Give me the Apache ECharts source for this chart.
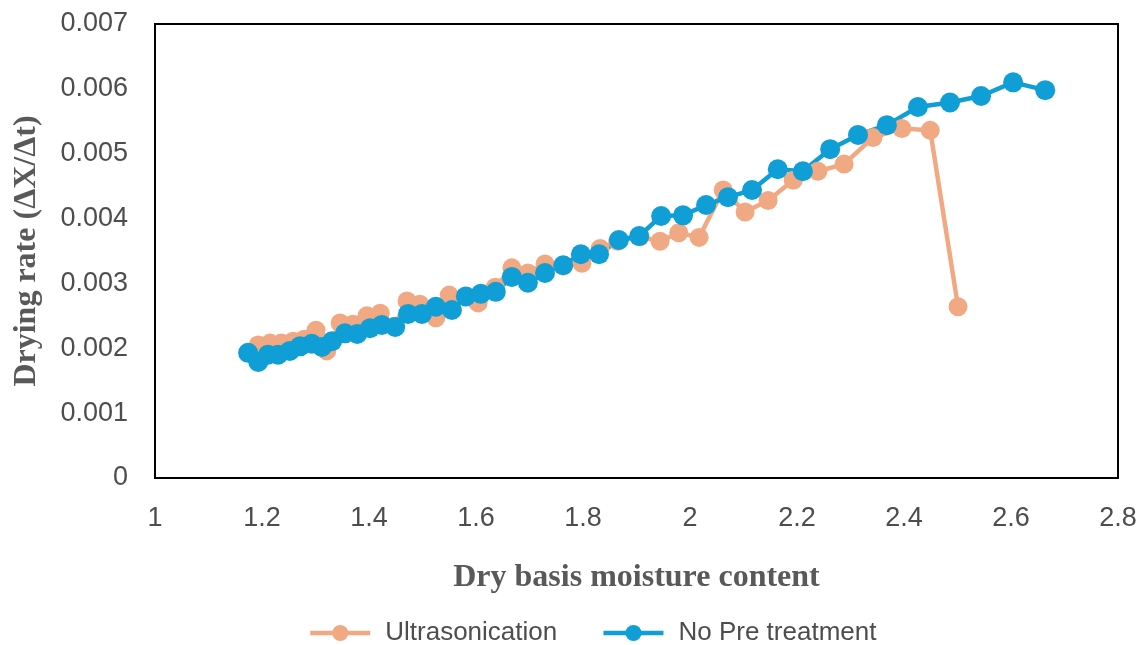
<!DOCTYPE html>
<html>
<head>
<meta charset="utf-8">
<script src="https://cdn.jsdelivr.net/npm/echarts@6/dist/echarts.min.js"></script>
<style>
  html, body { margin: 0; padding: 0; background: #fff; }
  #chart { width: 1142px; height: 645px; }
</style>
</head>
<body>
<div id="chart"></div>
<script>
// Ultrasonication
const ultraX = [1.193, 1.215, 1.236, 1.258, 1.279, 1.301, 1.321, 1.346, 1.370, 1.396,
    1.421, 1.447, 1.471, 1.495, 1.525, 1.550, 1.604, 1.636, 1.667, 1.697,
    1.729, 1.763, 1.798, 1.832, 1.865, 1.906, 1.944, 1.979, 2.017, 2.062,
    2.103, 2.146, 2.193, 2.239, 2.288, 2.342, 2.396, 2.449, 2.501]
const ultraY = [0.00205, 0.00208, 0.00208, 0.00211, 0.00214, 0.00228, 0.00196, 0.00239, 0.00237, 0.00250,
    0.00254, 0.00234, 0.00273, 0.00268, 0.00247, 0.00282, 0.00270, 0.00294, 0.00324, 0.00316,
    0.00330, 0.00327, 0.00331, 0.00354, 0.00365, 0.00372, 0.00365, 0.00378, 0.00371, 0.00444,
    0.00410, 0.00428, 0.00459, 0.00473, 0.00484, 0.00525, 0.00539, 0.00536, 0.00264]

// No pre treatment
const noPreX = [1.174, 1.193, 1.211, 1.230, 1.252, 1.271, 1.293, 1.312, 1.331, 1.355,
    1.378, 1.402, 1.424, 1.449, 1.473, 1.499, 1.525, 1.555, 1.581, 1.609,
    1.637, 1.667, 1.697, 1.729, 1.763, 1.796, 1.830, 1.867, 1.905, 1.946,
    1.987, 2.030, 2.071, 2.116, 2.164, 2.211, 2.262, 2.314, 2.368, 2.426,
    2.486, 2.544, 2.604, 2.664]
const noPreY = [0.00193, 0.00179, 0.00190, 0.00190, 0.00196, 0.00203, 0.00207, 0.00202, 0.00211, 0.00223,
    0.00222, 0.00231, 0.00236, 0.00233, 0.00253, 0.00253, 0.00264, 0.00259, 0.00280, 0.00284,
    0.00287, 0.00310, 0.00301, 0.00316, 0.00328, 0.00345, 0.00345, 0.00367, 0.00373, 0.00404,
    0.00405, 0.00421, 0.00433, 0.00444, 0.00476, 0.00473, 0.00507, 0.00529, 0.00544, 0.00572,
    0.00579, 0.00589, 0.00610, 0.00598]

const xTicks = { min: 1, max: 2.8, interval: 0.2 }
const yTicks = { min: 0, max: 0.007, interval: 0.001 }

const zip = (xs, ys) => xs.map((x, i) => [x, ys[i]])

const orange = '#F1A983'
const blue = '#0F9ED5'

const labelStyle = {
    color: '#4d4d4d',
    fontFamily: 'Liberation Sans, Arial, sans-serif',
    fontSize: 27
}
const nameStyle = {
    color: '#595959',
    fontFamily: 'Liberation Serif, Times New Roman, serif',
    fontWeight: 'bold',
    fontSize: 32
}

const option = {
    animation: false,
    grid: {
        left: 155,
        right: 24,
        top: 24,
        bottom: 167,
        show: true,
        borderColor: '#000',
        borderWidth: 2
    },
    legend: {
        left: 303,
        top: 615,
        itemWidth: 60,
        itemHeight: 20,
        itemGap: 44,
        textStyle: {
            color: '#4d4d4d',
            fontFamily: 'Liberation Sans, Arial, sans-serif',
            fontSize: 26,
            padding: [0, 0, 0, 10]
        },
        data: [
            { name: 'Ultrasonication', lineStyle: { width: 4.5, color: orange } },
            { name: 'No Pre treatment', lineStyle: { width: 4.5, color: blue } }
        ]
    },
    xAxis: {
        type: 'value',
        min: xTicks.min,
        max: xTicks.max,
        interval: xTicks.interval,
        name: 'Dry basis moisture content',
        nameLocation: 'middle',
        nameGap: 84,
        nameTextStyle: nameStyle,
        axisLine: { show: false },
        axisTick: { show: false },
        splitLine: { show: false },
        axisLabel: Object.assign({ margin: 27 }, labelStyle)
    },
    yAxis: {
        type: 'value',
        min: yTicks.min,
        max: yTicks.max,
        interval: yTicks.interval,
        name: 'Drying rate (ΔX/Δt)',
        nameLocation: 'middle',
        nameGap: 112,
        nameTextStyle: nameStyle,
        axisLine: { show: false },
        axisTick: { show: false },
        splitLine: { show: false },
        axisLabel: Object.assign({ margin: 27 }, labelStyle)
    },
    series: [
        {
            name: 'Ultrasonication',
            type: 'line',
            symbol: 'circle',
            symbolSize: 19,
            color: orange,
            lineStyle: { width: 4.5, color: orange },
            itemStyle: { color: orange },
            data: zip(ultraX, ultraY)
        },
        {
            name: 'No Pre treatment',
            type: 'line',
            symbol: 'circle',
            symbolSize: 20,
            color: blue,
            lineStyle: { width: 4.5, color: blue },
            itemStyle: { color: blue },
            data: zip(noPreX, noPreY)
        }
    ]
}

const chart = echarts.init(document.getElementById('chart'))
chart.setOption(option)
</script>
</body>
</html>
